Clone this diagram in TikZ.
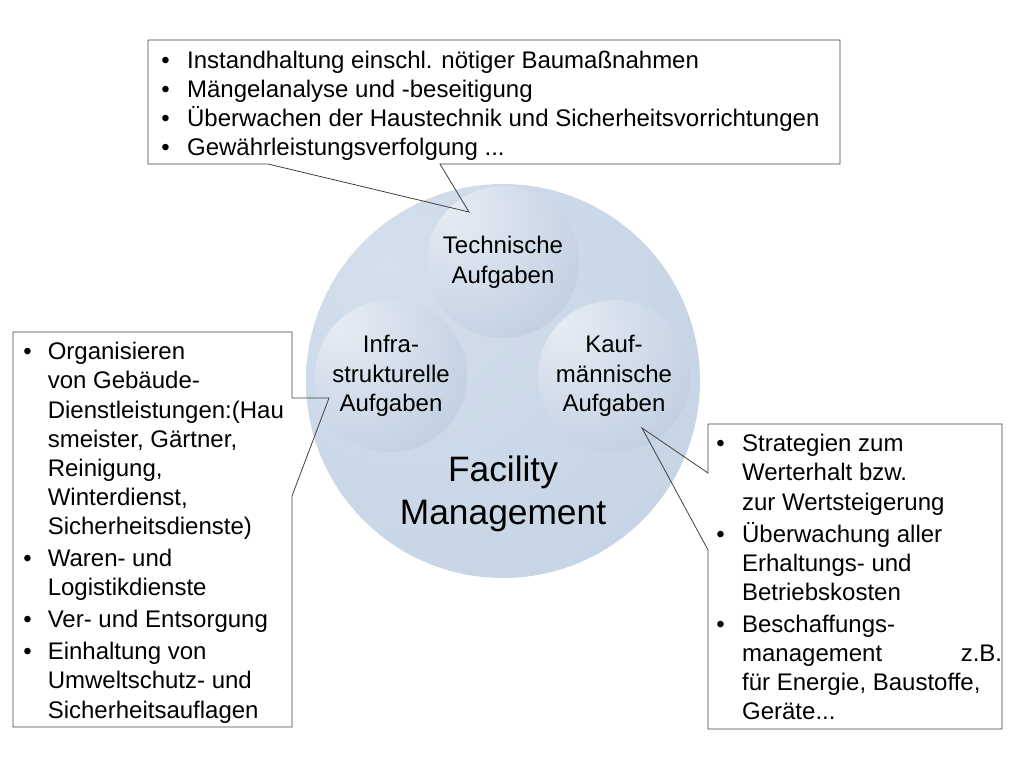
\documentclass[tikz,border=0pt]{standalone}
\usepackage{fontspec}
\setmainfont{Liberation Sans}
\definecolor{fmlight}{RGB}{212,223,236}
\definecolor{fmmid}{RGB}{199,213,229}
\definecolor{fmdark}{RGB}{192,207,225}
\definecolor{tasklight}{RGB}{230,236,244}
\definecolor{taskmid}{RGB}{204,216,231}
\definecolor{taskdark}{RGB}{166,187,212}
\pgfdeclareradialshading{fmshade}{\pgfpoint{-15bp}{15bp}}{color(0bp)=(fmlight); color(35bp)=(fmmid); color(65bp)=(fmdark); color(100bp)=(fmdark)}
\pgfdeclareradialshading{taskshade}{\pgfpoint{-18bp}{18bp}}{color(0bp)=(tasklight); color(30bp)=(taskmid); color(66bp)=(taskdark); color(100bp)=(taskdark)}
\begin{document}
\begin{tikzpicture}[
        x=0.75pt, y=-0.75pt,
        font=\fontsize{18}{21.9}\selectfont,
        line width=0.6pt
    ]
    \tikzset{
        fmball/.style = {circle, shade, shading=fmshade, minimum size=295.5pt, inner sep=0pt},
        taskball/.style = {circle, shade, shading=taskshade, minimum size=114pt, inner sep=0pt, align=center, font=\fontsize{18}{22.2}\selectfont},
        callout/.style = {draw=black!75, line join=miter},
        notes/.style = {anchor=west, inner sep=0pt, align=left},
    }
    \useasboundingbox (0,0) rectangle (1024,768);
    \node[fmball] (fm) at (503,381) {};
    \node[taskball] (tech) at (503,262) {Technische\\Aufgaben};
    \node[taskball] (infra) at (391,376) {Infra-\\strukturelle\\Aufgaben};
    \node[taskball] (kauf) at (614,376) {Kauf-\\männische\\Aufgaben};
    \node[font=\fontsize{26.5}{32}\selectfont, align=center] (fmtext) at (503,494) {Facility\\Management};
    \coordinate (techtip) at (469,212);
    \coordinate (infratip) at (329,398);
    \coordinate (kauftip) at (642,428);
    \draw[callout] (148,40) -- (840,40) -- (840,164) -- (440,164) -- (techtip) -- (268,164) -- (148,164) -- cycle;
    \draw[callout] (13,332) -- (292,332) -- (292,398) -- (infratip) -- (292,496) -- (292,727) -- (13,727) -- cycle;
    \draw[callout] (708,424) -- (1002,424) -- (1002,729) -- (708,729) -- (708,550) -- (kauftip) -- (708,473) -- cycle;
    \node[notes] (technotes) at (161,106) {\begin{tabular}{@{}l@{\hspace{13pt}}l@{}}
        \textbullet & Instandhaltung einschl. nötiger Baumaßnahmen\\
        \textbullet & Mängelanalyse und -beseitigung\\
        \textbullet & Überwachen der Haustechnik und Sicherheitsvorrichtungen\\
        \textbullet & Gewährleistungsverfolgung ...
    \end{tabular}};
    \node[notes] (infranotes) at (23,533) {\begin{tabular}{@{}l@{\hspace{12pt}}l@{}}
        \textbullet & Organisieren\\
        & von Gebäude-\\
        & Dienstleistungen:(Hau\\
        & smeister, Gärtner,\\
        & Reinigung,\\
        & Winterdienst,\\
        & Sicherheitsdienste)\\[2pt]
        \textbullet & Waren- und\\
        & Logistikdienste\\[2pt]
        \textbullet & Ver- und Entsorgung\\[2pt]
        \textbullet & Einhaltung von\\
        & Umweltschutz- und\\
        & Sicherheitsauflagen
    \end{tabular}};
    \node[notes] (kaufnotes) at (716,580) {\begin{tabular}{@{}l@{\hspace{13pt}}l@{}}
        \textbullet & Strategien zum\\
        & Werterhalt bzw.\\
        & zur Wertsteigerung\\[2pt]
        \textbullet & Überwachung aller\\
        & Erhaltungs- und\\
        & Betriebskosten\\[2pt]
        \textbullet & Beschaffungs-\\
        & \makebox[195pt][s]{management\hfill z.B.}\\
        & für Energie, Baustoffe,\\
        & Geräte...
    \end{tabular}};
\end{tikzpicture}
\end{document}
